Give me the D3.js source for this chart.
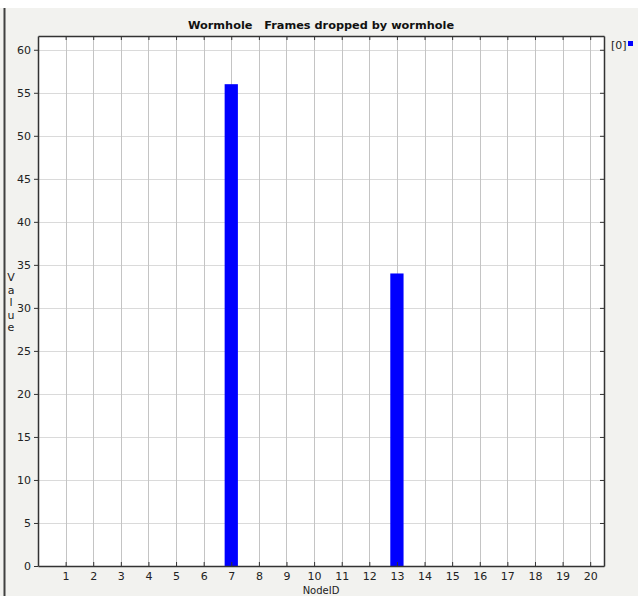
<!DOCTYPE html>
<html><head><meta charset="utf-8">
<script src="https://cdn.jsdelivr.net/npm/d3@7"></script>
<style>
html,body{margin:0;padding:0;background:#fff;}
svg{display:block;}
text{font-family:"DejaVu Sans",sans-serif;}
</style></head>
<body>
<svg id="c" width="638" height="596"></svg>
<script>
const title = "Wormhole   Frames dropped by wormhole";
const nodeIds = d3.range(1, 21);
const barNodes = [7, 13];
const barValues = [56, 34];
const yTicks = [0, 5, 10, 15, 20, 25, 30, 35, 40, 45, 50, 55, 60];
const legendLabels = ["[0]"];
const xLabel = "NodeID";
const yLabel = "Value";

const svg = d3.select("#c");
const W = 638, H = 596;
const m = {left: 38, top: 36, right: 604, bottom: 566};

svg.append("rect").attr("x", 0).attr("y", 8).attr("width", W).attr("height", H - 8).attr("fill", "#f2f2ef");
svg.append("line").attr("x1", 4.5).attr("x2", 4.5).attr("y1", 8).attr("y2", H).attr("stroke", "#404040").attr("stroke-width", 2);

const x = d3.scaleLinear().domain([0, 20.5]).range([m.left, m.right]);
const y = d3.scaleLinear().domain([0, d3.max(barValues) * 1.1]).range([m.bottom, m.top]);

svg.append("rect").attr("x", m.left).attr("y", m.top).attr("width", m.right - m.left).attr("height", m.bottom - m.top).attr("fill", "#fff");

// grid
svg.append("g").selectAll("line").data(yTicks).join("line")
  .attr("x1", m.left).attr("x2", m.right)
  .attr("y1", d => Math.round(y(d)) + 0.5).attr("y2", d => Math.round(y(d)) + 0.5)
  .attr("stroke", "#dadada");
svg.append("g").selectAll("line").data(nodeIds).join("line")
  .attr("y1", m.top).attr("y2", m.bottom)
  .attr("x1", d => Math.round(x(d)) + 0.5).attr("x2", d => Math.round(x(d)) + 0.5)
  .attr("stroke", "#c4c4c4");

// bars
const bw = x(0.48) - x(0);
svg.append("g").selectAll("rect").data(barNodes.map((n, i) => ({n, v: barValues[i]}))).join("rect")
  .attr("x", d => x(d.n) - bw / 2).attr("width", bw)
  .attr("y", d => y(d.v)).attr("height", d => y(0) - y(d.v))
  .attr("fill", "#0000ff");

// axes
const font = "11px";
const gB = svg.append("g").attr("transform", `translate(0,${m.bottom})`)
  .call(d3.axisBottom(x).tickValues(nodeIds).tickSizeInner(-4).tickSizeOuter(0).tickPadding(6));
const gT = svg.append("g").attr("transform", `translate(0,${m.top})`)
  .call(d3.axisTop(x).tickValues(nodeIds).tickSizeInner(-4).tickSizeOuter(0).tickFormat(""));
const gL = svg.append("g").attr("transform", `translate(${m.left},0)`)
  .call(d3.axisLeft(y).tickValues(yTicks).tickSizeInner(4).tickSizeOuter(0).tickPadding(3));
const gR = svg.append("g").attr("transform", `translate(${m.right},0)`)
  .call(d3.axisRight(y).tickValues(yTicks).tickSizeInner(-4).tickSizeOuter(0).tickFormat(""));
[gB, gT, gL, gR].forEach(g => {
  g.selectAll("path").attr("stroke", "#333").attr("stroke-width", 1.5);
  g.selectAll("line").attr("stroke", "#333");
  g.selectAll("text").attr("font-size", font).attr("fill", "#222").attr("font-family", "'DejaVu Sans',sans-serif");
});

// title
svg.append("text").attr("x", (m.left + m.right) / 2).attr("y", 29).attr("text-anchor", "middle")
  .attr("font-size", "11.3px").attr("font-weight", "bold").attr("fill", "#111").style("white-space", "pre")
  .text(title);

// x label
svg.append("text").attr("x", (m.left + m.right) / 2).attr("y", 593.5).attr("text-anchor", "middle")
  .attr("font-size", "10px").attr("fill", "#222").text(xLabel);

// y label stacked letters
svg.append("g").selectAll("text").data(yLabel.split("")).join("text")
  .attr("x", 11).attr("y", (d, i) => 281 + i * 12.5).attr("text-anchor", "middle")
  .attr("font-size", "11px").attr("fill", "#222").text(d => d);

// legend
const lg = svg.append("g");
lg.selectAll("text").data(legendLabels).join("text")
  .attr("x", 611).attr("y", 49).attr("font-size", "11px").attr("fill", "#222").text(d => d);
lg.selectAll("rect").data(legendLabels).join("rect")
  .attr("x", 628).attr("y", 41).attr("width", 5).attr("height", 5).attr("fill", "#0000ff");
</script>
</body></html>
